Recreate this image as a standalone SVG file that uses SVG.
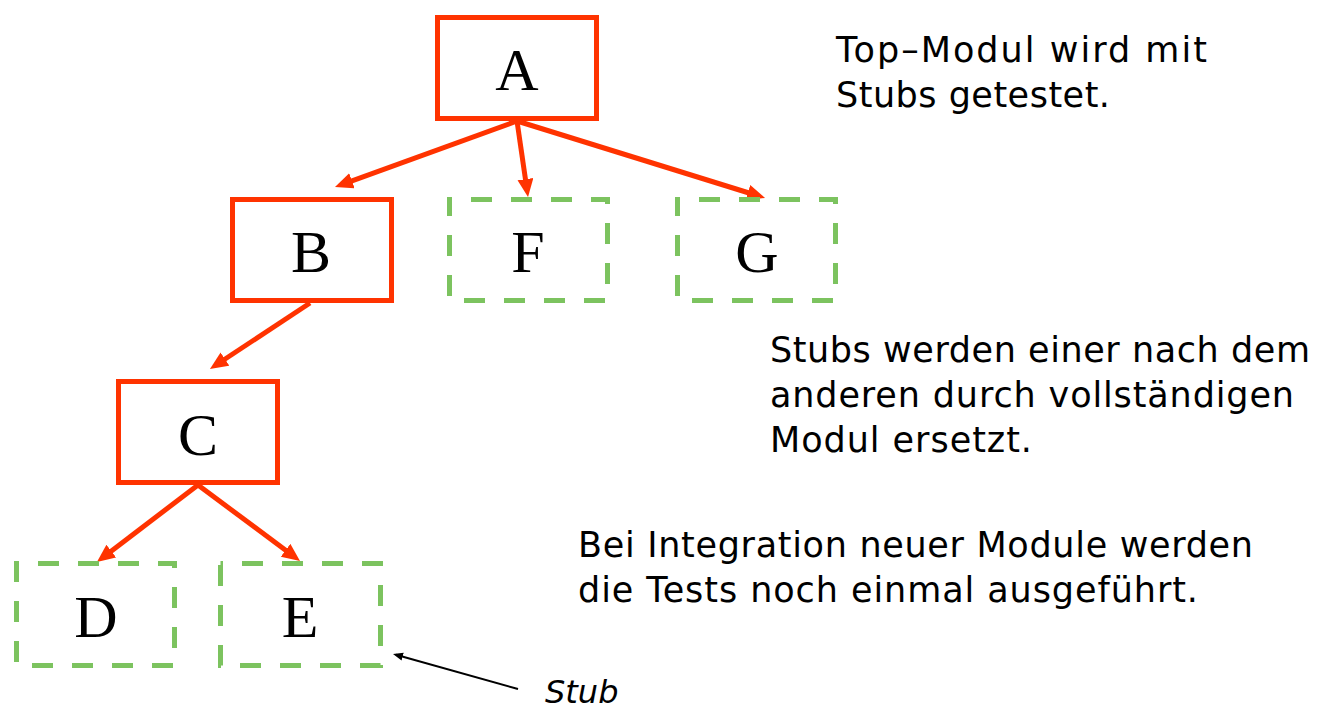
<svg xmlns="http://www.w3.org/2000/svg" width="1327" height="711" viewBox="0 0 1327 711">
<defs>
<style>
.mod{fill:#fff;stroke:#FF3300;stroke-width:5}
.stub{fill:#fff;stroke:#7CC35F;stroke-width:5;stroke-dasharray:21 19;stroke-dashoffset:18.5}
.lbl{font-family:"Liberation Serif","Times New Roman",serif;font-size:60px;fill:#000;text-anchor:middle}
.edge{stroke:#FF3300;stroke-width:5;fill:none;marker-end:url(#ah)}
.note{font-family:"DejaVu Sans","Noto Sans",sans-serif;font-size:35px;fill:#000}
</style>
<marker id="ah" markerUnits="userSpaceOnUse" markerWidth="20" markerHeight="18" refX="8" refY="8" orient="auto">
<path d="M0,0 L18,8 L0,16 Z" fill="#FF3300"/>
</marker>
<marker id="ahs" markerUnits="userSpaceOnUse" markerWidth="12" markerHeight="10" refX="7" refY="4" orient="auto">
<path d="M0,0 L10,4 L0,8 Z" fill="#000"/>
</marker>
</defs>
<rect width="1327" height="711" fill="#fff"/>
<g id="connectors">
<line class="edge" x1="517" y1="121" x2="344.4" y2="183.6"/>
<line class="edge" x1="517" y1="121" x2="526.6" y2="187.1"/>
<line class="edge" x1="517" y1="121" x2="755.5" y2="195"/>
<line class="edge" x1="310" y1="303" x2="218.3" y2="363.5"/>
<line class="edge" x1="198" y1="485" x2="104.9" y2="555.9"/>
<line class="edge" x1="198" y1="485" x2="292" y2="555"/>
<line x1="518" y1="689" x2="395.9" y2="654.8" stroke="#000" stroke-width="2" marker-end="url(#ahs)"/>
</g>
<g id="node-A"><rect class="mod" x="437.5" y="17.5" width="159" height="101"/><text class="lbl" x="517" y="90">A</text></g>
<g id="node-B"><rect class="mod" x="232.5" y="199.5" width="159" height="101"/><text class="lbl" x="311" y="272">B</text></g>
<g id="node-C"><rect class="mod" x="118.5" y="381.5" width="159" height="101"/><text class="lbl" x="198" y="455">C</text></g>
<g id="node-F"><rect class="stub" x="449.5" y="199.5" width="158" height="101"/><text class="lbl" x="528" y="272">F</text></g>
<g id="node-G"><rect class="stub" x="677.5" y="199.5" width="158" height="101"/><text class="lbl" x="757" y="272">G</text></g>
<g id="node-D"><rect class="stub" x="16.5" y="563.5" width="158" height="102"/><text class="lbl" x="96" y="637">D</text></g>
<g id="node-E"><rect class="stub" x="220.5" y="563.5" width="160" height="102"/><text class="lbl" x="300" y="637">E</text></g>
<g id="notes">
<text class="note" x="836" y="62" textLength="371" lengthAdjust="spacing">Top–Modul wird mit</text>
<text class="note" x="836" y="107" textLength="274" lengthAdjust="spacing">Stubs getestet.</text>
<text class="note" x="770" y="362" textLength="540" lengthAdjust="spacing">Stubs werden einer nach dem</text>
<text class="note" x="770" y="407" textLength="524" lengthAdjust="spacing">anderen durch vollständigen</text>
<text class="note" x="770" y="452" textLength="262" lengthAdjust="spacing">Modul ersetzt.</text>
<text class="note" x="578" y="557" textLength="675" lengthAdjust="spacing">Bei Integration neuer Module werden</text>
<text class="note" x="578" y="602" textLength="620" lengthAdjust="spacing">die Tests noch einmal ausgeführt.</text>
<text x="545" y="703" font-family="DejaVu Sans,sans-serif" font-style="italic" font-size="32">Stub</text>
</g>
</svg>
